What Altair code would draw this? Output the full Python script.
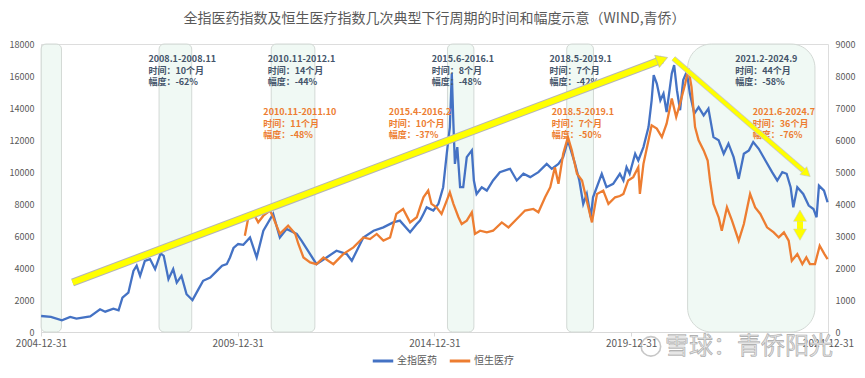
import altair as alt
import pandas as pd

FONT = "Noto Sans CJK SC"
GREY = "#595959"
BLUE = "#4472C4"
ORANGE = "#ED7D31"

TITLE = "全指医药指数及恒生医疗指数几次典型下行周期的时间和幅度示意（WIND,青侨）"
SERIES = ["全指医药", "恒生医疗"]

# ---- 全指医药 (left axis), decimal year -> index level ----
blue_year = [2005.0, 2005.25, 2005.53, 2005.74, 2005.9, 2006.25, 2006.5, 2006.63, 2006.84, 2006.97,
             2007.07, 2007.22, 2007.35, 2007.43, 2007.52, 2007.64, 2007.77, 2007.9, 2008.04, 2008.12,
             2008.24, 2008.36, 2008.45, 2008.57, 2008.7, 2008.85, 2009.0, 2009.12, 2009.3, 2009.47,
             2009.6, 2009.72, 2009.8, 2009.89, 2010.01, 2010.14, 2010.31, 2010.48, 2010.65, 2010.9,
             2011.07, 2011.24, 2011.5, 2011.62, 2011.84, 2012.0, 2012.26, 2012.51, 2012.77, 2012.9,
             2013.19, 2013.45, 2013.7, 2013.95, 2014.12, 2014.38, 2014.55, 2014.63, 2014.72, 2014.8,
             2014.97, 2015.1, 2015.22, 2015.31, 2015.39, 2015.44, 2015.48, 2015.52, 2015.58, 2015.65,
             2015.73, 2015.82, 2015.95, 2016.0, 2016.07, 2016.2, 2016.33, 2016.49, 2016.66, 2016.92,
             2017.09, 2017.26, 2017.43, 2017.64, 2017.85, 2017.98, 2018.15, 2018.27, 2018.39, 2018.44,
             2018.57, 2018.68, 2018.78, 2018.87, 2018.97, 2019.03, 2019.25, 2019.37, 2019.54, 2019.71,
             2019.8, 2019.88, 2019.96, 2020.1, 2020.18, 2020.31, 2020.44, 2020.52, 2020.57, 2020.65,
             2020.74, 2020.82, 2020.9, 2021.03, 2021.09, 2021.16, 2021.24, 2021.32, 2021.41, 2021.49,
             2021.6, 2021.71, 2021.84, 2021.96, 2022.09, 2022.22, 2022.35, 2022.47, 2022.6, 2022.73,
             2022.86, 2022.99, 2023.1, 2023.24, 2023.41, 2023.58, 2023.71, 2023.84, 2023.95, 2024.05,
             2024.12, 2024.22, 2024.37, 2024.51, 2024.63, 2024.71, 2024.77, 2024.9, 2024.99]
blue_val = [1000, 950, 730, 940, 835, 980, 1420, 1270, 1460, 1360,
            2150, 2460, 3820, 4140, 3510, 4450, 4560, 3930, 4910, 4760,
            3300, 3930, 3090, 3510, 2360, 1990, 2680, 3200, 3400, 3820,
            4140, 4240, 4660, 5250, 5500, 5450, 5910, 4660, 6330, 7380,
            5910, 6440, 6130, 5710, 4870, 4240, 4660, 5080, 4870, 4450,
            5910, 6330, 6540, 6850, 6960, 6230, 6750, 6960, 7380, 7790,
            7590, 8010, 9050, 11140, 12810, 16160, 13020, 10510, 11560, 9050,
            9050, 10930, 11350, 9470, 8630, 9050, 8840, 9470, 9990, 10200,
            9470, 9890, 9680, 9990, 10510, 10200, 10510, 10930, 11980, 11560,
            10510, 9470, 8010, 8630, 7170, 8420, 9890, 9050, 9260, 9890,
            9470, 10300, 9890, 11140, 10720, 11560, 12810, 14480, 16050, 15530,
            14480, 14900, 13750, 16160, 16680, 15110, 13860, 15740, 16260, 14900,
            13650, 14060, 13540, 13960, 12180, 11980, 11140, 11770, 10930, 9570,
            11140, 11350, 11870, 11450, 10720, 9990, 9470, 9990, 9890, 9050,
            7790, 9050, 8630, 7900, 7690, 7170, 9150, 8840, 8110]

# ---- 恒生医疗 (right axis) ----
orange_year = [2010.18, 2010.27, 2010.4, 2010.52, 2010.65, 2010.82, 2010.9, 2011.07, 2011.28, 2011.46,
               2011.54, 2011.67, 2011.84, 2012.0, 2012.18, 2012.43, 2012.68, 2012.94, 2013.19, 2013.36,
               2013.53, 2013.7, 2013.87, 2014.03, 2014.2, 2014.38, 2014.55, 2014.63, 2014.72, 2014.84,
               2014.92, 2015.05, 2015.18, 2015.31, 2015.39, 2015.48, 2015.61, 2015.69, 2015.82, 2015.95,
               2016.03, 2016.16, 2016.33, 2016.49, 2016.71, 2016.88, 2017.09, 2017.3, 2017.51, 2017.64,
               2017.81, 2017.94, 2018.06, 2018.15, 2018.27, 2018.39, 2018.49, 2018.62, 2018.75, 2018.87,
               2019.0, 2019.13, 2019.29, 2019.42, 2019.59, 2019.71, 2019.8, 2019.92, 2020.05, 2020.18,
               2020.22, 2020.31, 2020.44, 2020.52, 2020.65, 2020.78, 2020.9, 2021.03, 2021.14, 2021.24,
               2021.37, 2021.45, 2021.53, 2021.62, 2021.71, 2021.84, 2021.94, 2022.0, 2022.09, 2022.22,
               2022.3, 2022.43, 2022.56, 2022.73, 2022.86, 2023.02, 2023.15, 2023.28, 2023.45, 2023.62,
               2023.75, 2023.88, 2024.0, 2024.08, 2024.22, 2024.35, 2024.45, 2024.54, 2024.67, 2024.79,
               2024.91, 2024.99]
orange_val = [3010, 3585, 3690, 3425, 3635, 3795, 3585, 3065, 3325, 3065,
              2750, 2330, 2175, 2120, 2330, 2120, 2435, 2645, 2955, 2905,
              3065, 2855, 2955, 3690, 3845, 3425, 3585, 3895, 4210, 4420,
              4005, 3895, 3690, 4105, 4365, 4005, 3585, 3375, 3480, 3740,
              3065, 3165, 3115, 3165, 3425, 3270, 3530, 3795, 3845, 3740,
              4210, 4525, 5150, 4630, 5570, 6090, 5675, 4945, 4735, 4105,
              3425, 4315, 4420, 4005, 4210, 4250, 4315, 4735, 4840, 5150,
              4315, 5255, 5990, 6460, 6355, 6090, 6510, 7295, 6720, 7140,
              7765, 8235, 7660, 6405, 5990, 5675, 5360, 4735, 4005, 3585,
              3165, 3895, 3480, 2855, 3375, 4315, 3895, 3690, 3270, 3115,
              2955, 3115, 2855, 2225, 2435, 2120, 2330, 2120, 2120, 2695,
              2435, 2280]

# ---- shaded downturn periods ----
band_start = [2005.0, 2008.0, 2010.85, 2015.33, 2018.36]
band_end = [2005.52, 2008.83, 2011.96, 2016.0, 2019.04]
big_band_start = [2021.43]
big_band_end = [2024.67]

# ---- annotations ----
blue_note_text = ["2008.1-2008.11\n时间：10个月\n幅度：-62%",
                  "2010.11-2012.1\n时间：14个月\n幅度：-44%",
                  "2015.6-2016.1\n时间：8个月\n幅度：-48%",
                  "2018.5-2019.1\n时间：7个月\n幅度：-42%",
                  "2021.2-2024.9\n时间：44个月\n幅度：-58%"]
blue_note_year = [2007.73, 2010.76, 2014.93, 2017.92, 2022.64]
blue_note_level = [17300, 17300, 17300, 17300, 17300]
orange_note_text = ["2010.11-2011.10\n时间：11个月\n幅度：-48%",
                    "2015.4-2016.2\n时间：10个月\n幅度：-37%",
                    "2018.5-2019.1\n时间：7个月\n幅度：-50%",
                    "2021.6-2024.7\n时间：36个月\n幅度：-76%"]
orange_note_year = [2010.65, 2013.84, 2017.98, 2023.09]
orange_note_level = [14000, 14000, 14000, 14000]

# yellow trend arrows (decimal year, left-axis level)
rise_year = [2005.8, 2020.79]
rise_level = [3090, 17035]
rise_head = (2020.79, 17035)
fall_year = [2021.07, 2024.46]
fall_level = [17100, 9900]
fall_head = (2024.46, 9900)
gap_year = 2024.29
gap_lo, gap_hi = 6080, 7270

WATERMARK = "雪球：青侨阳光"
wm_year, wm_level = 2020.86, -957
logo_year, logo_level = 2020.5, -900


def yr2date(y):
    yi = int(y)
    d = pd.Timestamp(year=yi, month=1, day=1) + pd.Timedelta(days=(y - yi) * 365.25)
    return d.strftime("%Y-%m-%d")


def dates(ys):
    return [yr2date(y) for y in ys]


XS = alt.Scale(type="utc", domain=[alt.DateTime(year=2004, month=12, date=31, utc=True),
                                   alt.DateTime(year=2024, month=12, date=31, utc=True)])
YL = alt.Scale(domain=[0, 18000], nice=False)
YR = alt.Scale(domain=[0, 9000], nice=False)

x_axis = alt.Axis(values=[alt.DateTime(year=y, month=12, date=31, utc=True) for y in [2004, 2009, 2014, 2019, 2024]],
                  format="%Y-%m-%d", labelColor=GREY, labelFontSize=10, labelFont=FONT, tickColor="#d9d9d9",
                  tickSize=4, domainColor="#d9d9d9", grid=False, labelPadding=2, labelFlush=False, title=None)
yl_axis = alt.Axis(values=list(range(0, 18001, 2000)), format="d", labelColor=GREY, labelFontSize=9,
                   labelFont=FONT, ticks=False, domain=False, gridColor="#d9d9d9", gridWidth=1,
                   labelPadding=7, title=None, orient="left")
yr_axis = alt.Axis(values=list(range(0, 9001, 1000)), format="d", labelColor=GREY, labelFontSize=9,
                   labelFont=FONT, ticks=False, domain=False, grid=False, labelPadding=7, title=None,
                   orient="right")

color_scale = alt.Scale(domain=SERIES, range=[BLUE, ORANGE])
legend = alt.Legend(orient="none", legendX=330, legendY=305, direction="horizontal", title=None,
                    symbolType="stroke", symbolStrokeWidth=3, symbolSize=420, labelFontSize=10,
                    labelColor=GREY, labelFont=FONT, columnPadding=6, labelOffset=2)


def X(field="d"):
    return alt.X(f"{field}:T", scale=XS, axis=x_axis, title=None)


def Y(field="v"):
    return alt.Y(f"{field}:Q", scale=YL, axis=None, title=None)


blue_df = pd.DataFrame({"d": dates(blue_year), "v": blue_val, "s": SERIES[0]})
orange_df = pd.DataFrame({"d": dates(orange_year), "v": orange_val, "s": SERIES[1]})
band_df = pd.DataFrame({"d": dates(band_start), "d2": dates(band_end), "lo": 0, "hi": 18000})
big_df = pd.DataFrame({"d": dates(big_band_start), "d2": dates(big_band_end), "lo": 0, "hi": 18000})

bands = alt.Chart(band_df).mark_rect(cornerRadius=5, fill="#e6f5ec", fillOpacity=0.6,
                                     stroke="#d3d9d5", strokeWidth=1).encode(
    x=X("d"), x2="d2:T", y=Y("lo"), y2="hi:Q")
big = alt.Chart(big_df).mark_rect(cornerRadius=24, fill="#e6f5ec", fillOpacity=0.6,
                                  stroke="#d3d9d5", strokeWidth=1).encode(
    x=X("d"), x2="d2:T", y=Y("lo"), y2="hi:Q")

blue = alt.Chart(blue_df).mark_line(strokeWidth=2.3).encode(
    x=X("d"),
    y=alt.Y("v:Q", scale=YL, axis=yl_axis, title=None),
    color=alt.Color("s:N", scale=color_scale, legend=legend))

orange = alt.Chart(orange_df).mark_line(strokeWidth=2.3).encode(
    x=X("d"),
    y=alt.Y("v:Q", scale=YR, axis=yr_axis, title=None),
    color=alt.Color("s:N", scale=color_scale, legend=legend))

bn_df = pd.DataFrame({"d": dates(blue_note_year), "v": blue_note_level, "t": blue_note_text})
on_df = pd.DataFrame({"d": dates(orange_note_year), "v": orange_note_level, "t": orange_note_text})
txt_kw = dict(align="left", baseline="top", lineBreak="\n", lineHeight=11.5, fontSize=9,
              fontWeight="bold", font=FONT)
blue_notes = alt.Chart(bn_df).mark_text(color="#44546A", **txt_kw).encode(x=X("d"), y=Y("v"), text="t:N")
orange_notes = alt.Chart(on_df).mark_text(color=ORANGE, **txt_kw).encode(x=X("d"), y=Y("v"), text="t:N")

rise_df = pd.DataFrame({"d": dates(rise_year), "v": rise_level})
fall_df = pd.DataFrame({"d": dates(fall_year), "v": fall_level})
rise_sh = alt.Chart(rise_df).mark_line(color="#b5b5b5", strokeWidth=8, strokeCap="butt").encode(x=X(), y=Y())
rise_ln = alt.Chart(rise_df).mark_line(color="#FFFF00", strokeWidth=6, strokeCap="butt").encode(x=X(), y=Y())
fall_sh = alt.Chart(fall_df).mark_line(color="#c8c8c8", strokeWidth=5.5, strokeCap="butt").encode(x=X(), y=Y())
fall_ln = alt.Chart(fall_df).mark_line(color="#FFFF00", strokeWidth=4, strokeCap="butt").encode(x=X(), y=Y())

rh_df = pd.DataFrame({"d": [yr2date(rise_head[0])], "v": [rise_head[1]]})
fh_df = pd.DataFrame({"d": [yr2date(fall_head[0])], "v": [fall_head[1]]})
rise_head_m = alt.Chart(rh_df).mark_point(shape="triangle-up", filled=True, fill="#FFFF00", stroke="#b5b5b5",
                                           strokeWidth=0.6, opacity=1, size=170, angle=69.4).encode(x=X(), y=Y())
fall_head_m = alt.Chart(fh_df).mark_point(shape="triangle-up", filled=True, fill="#FFFF00", stroke="#c8c8c8",
                                           strokeWidth=0.6, opacity=1, size=110, angle=130.8).encode(x=X(), y=Y())

gap_df = pd.DataFrame({"d": [yr2date(gap_year)], "lo": [gap_lo], "hi": [gap_hi]})
gap_rule = alt.Chart(gap_df).mark_rule(color="#FFFF00", strokeWidth=6).encode(x=X(), y=Y("lo"), y2="hi:Q")
gap_up = alt.Chart(gap_df).mark_point(shape="triangle-up", filled=True, fill="#FFFF00", stroke="#c8c8c8",
                                      strokeWidth=0.5, opacity=1, size=170).encode(x=X(), y=Y("hi"))
gap_dn = alt.Chart(gap_df).mark_point(shape="triangle-down", filled=True, fill="#FFFF00", stroke="#c8c8c8",
                                      strokeWidth=0.5, opacity=1, size=170).encode(x=X(), y=Y("lo"))

wm_df = pd.DataFrame({"d": [yr2date(wm_year)], "v": [wm_level], "t": [WATERMARK]})
wm = alt.Chart(wm_df).mark_text(align="left", baseline="middle", fontSize=24, font=FONT, fill="#e4e4e4",
                                stroke="#a8a8a8", strokeWidth=0.6).encode(x=X(), y=Y(), text="t:N")
logo_df = pd.DataFrame({"d": [yr2date(logo_year)], "v": [logo_level]})
logo = alt.Chart(logo_df).mark_point(shape="circle", filled=False, color="#b0b0b0", strokeWidth=1.6,
                                     size=380).encode(x=X(), y=Y())

chart = alt.layer(
    bands, big, blue, orange, blue_notes, orange_notes,
    rise_sh, rise_ln, rise_head_m, fall_sh, fall_ln, fall_head_m,
    gap_rule, gap_up, gap_dn, logo, wm
).resolve_scale(y="independent").properties(
    width=787, height=288,
    title=alt.TitleParams(TITLE, fontSize=14, font=FONT, color=GREY, fontWeight="normal",
                          anchor="middle", offset=14),
    autosize=alt.AutoSizeParams(type="none"),
    padding={"left": 33, "top": 36, "right": 29, "bottom": 38},
).configure_view(strokeWidth=0).configure(background="white")

chart.save("out.html", embed_options={"renderer": "svg", "actions": False})
